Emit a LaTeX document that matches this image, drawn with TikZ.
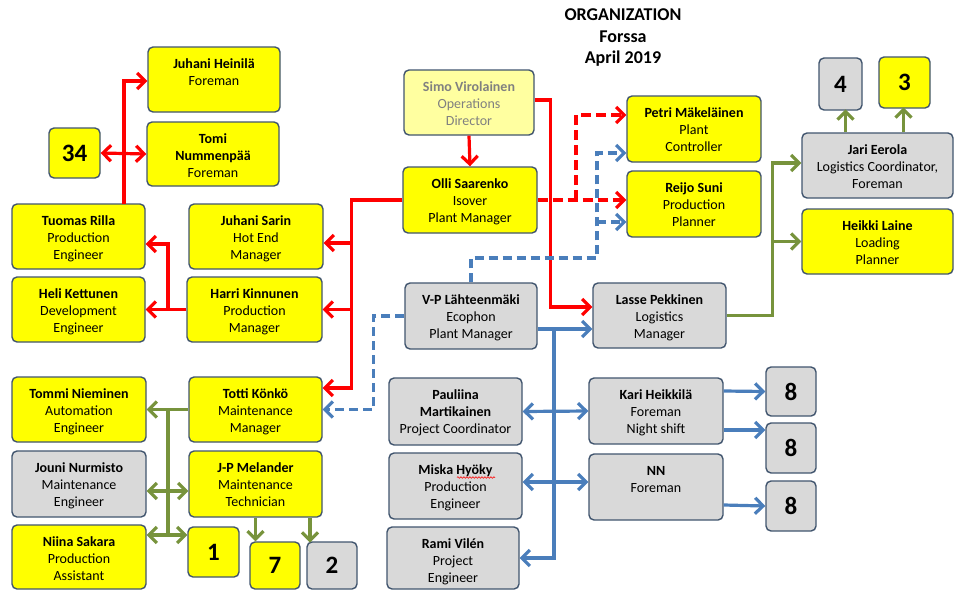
\documentclass[tikz,border=0pt]{standalone}
\usepackage{fontspec}
\setmainfont{Carlito}
\usetikzlibrary{arrows.meta,decorations.pathmorphing}
\definecolor{bordc}{RGB}{65,85,110}
\definecolor{yel}{RGB}{255,255,0}
\definecolor{gry}{RGB}{217,217,217}
\definecolor{lyel}{RGB}{255,255,160}
\definecolor{simotext}{RGB}{128,128,128}
\definecolor{cred}{RGB}{255,0,0}
\definecolor{cblue}{RGB}{74,126,187}
\definecolor{cgreen}{RGB}{119,147,60}
\tikzset{
  box/.style={draw=bordc, line width=1.4pt, rounded corners=5pt, inner sep=0pt},
  ybox/.style={box, fill=yel},
  gbox/.style={box, fill=gry},
  sbox/.style={box, fill=lyel},
  lab/.style={anchor=north, inner sep=0pt, align=center, font=\fontsize{14}{16.9}\selectfont},
  num/.style={font=\fontsize{25}{27}\selectfont\bfseries},
  conn/.style={line width=3.2pt},
  tp/.tip={Straight Barb[length=8pt,width=16pt]},
  ra/.style={conn, draw=cred, -tp},
  ra2/.style={conn, draw=cred, tp-tp},
  rdash/.style={ra, dash pattern=on 10pt off 5pt},
  ba/.style={conn, draw=cblue, -tp},
  ba2/.style={conn, draw=cblue, tp-tp},
  bdash/.style={ba, dash pattern=on 9pt off 5pt},
  ga/.style={conn, draw=cgreen, -tp},
  ga2/.style={conn, draw=cgreen, tp-tp},
  gl/.style={conn, draw=cgreen},
}
\newcommand\pbox[7]{%
  \node[#1, minimum width=#5pt, minimum height=#6pt] (#2) at (#3,#4) {};
  \node[lab] (#2-t) at ([yshift=-10.5pt]#2.north) {#7};}
\newcommand\nbox[7]{%
  \node[#1, num, minimum width=#5pt, minimum height=#6pt] (#2) at (#3,#4) {#7};}
\begin{document}
\begin{tikzpicture}[x=1pt,y=-1pt]
\useasboundingbox (0,0) rectangle (954,590);

% title
\node[font=\fontsize{18}{21.5}\selectfont\bfseries, align=center] (title) at (623,38) {ORGANIZATION\\Forssa\\April 2019};

% left column
\pbox{ybox}{heinila}{214}{79.5}{132}{65}{\strut\textbf{Juhani Heinilä}\\Foreman}
\pbox{ybox}{tomi}{213}{154}{132}{64}{\strut\textbf{Tomi}\\\textbf{Nummenpää}\\Foreman}
\nbox{ybox}{n34}{74.5}{153}{51}{50}{34}
\pbox{ybox}{tuomas}{78.5}{236.5}{133}{65}{\strut\textbf{Tuomas Rilla}\\Production\\Engineer}
\pbox{ybox}{heli}{78.5}{309.5}{133}{65}{\strut\textbf{Heli Kettunen}\\Development\\Engineer}
\pbox{ybox}{sarin}{256}{236.5}{134}{65}{\strut\textbf{Juhani Sarin}\\Hot End\\Manager}
\pbox{ybox}{harri}{254.5}{309.5}{135}{65}{\strut\textbf{Harri Kinnunen}\\Production\\Manager}
\pbox{ybox}{tommi}{79}{409.5}{134}{65}{\strut\textbf{Tommi Nieminen}\\Automation\\Engineer}
\pbox{gbox}{jouni}{79}{484}{134}{66}{\strut\textbf{Jouni Nurmisto}\\Maintenance\\Engineer}
\pbox{ybox}{niina}{79}{557}{134}{64}{\strut\textbf{Niina Sakara}\\Production\\Assistant}
\pbox{ybox}{totti}{255.5}{409.5}{133}{65}{\strut\textbf{Totti Könkö}\\Maintenance\\Manager}
\pbox{ybox}{melander}{255.5}{484}{133}{66}{\strut\textbf{J-P Melander}\\Maintenance\\Technician}
\nbox{ybox}{n1}{213.5}{552}{51}{50}{1}
\nbox{ybox}{n7}{275}{565.5}{50}{47}{7}
\nbox{gbox}{n2}{332}{565.5}{50}{47}{2}

% middle
\node[sbox, minimum width=130pt, minimum height=65pt] (simo) at (469,102.5) {};
\node[lab, text=simotext] (simo-t) at ([yshift=-10.5pt]simo.north) {\strut\textbf{Simo Virolainen}\\Operations\\Director};
\pbox{ybox}{olli}{470}{200}{134}{66}{\strut\textbf{Olli Saarenko}\\Isover\\Plant Manager}
\pbox{gbox}{vp}{471}{316}{132}{66}{\strut\textbf{V-P Lähteenmäki}\\Ecophon\\Plant Manager}
\pbox{ybox}{petri}{694}{129}{134}{66}{\strut\textbf{Petri Mäkeläinen}\\Plant\\Controller}
\pbox{ybox}{reijo}{694}{204}{134}{66}{\strut\textbf{Reijo Suni}\\Production\\Planner}
\pbox{gbox}{lasse}{659.5}{315.5}{133}{65}{\strut\textbf{Lasse Pekkinen}\\Logistics\\Manager}
\pbox{gbox}{jari}{877.5}{165.5}{151}{65}{\strut\textbf{Jari Eerola}\\Logistics Coordinator,\\Foreman}
\pbox{ybox}{heikki}{877.5}{241.5}{151}{65}{\strut\textbf{Heikki Laine}\\Loading\\Planner}
\nbox{gbox}{n4}{840.5}{84}{43}{52}{4}
\nbox{ybox}{n3}{904.5}{82.5}{51}{51}{3}
\pbox{gbox}{pauliina}{455.5}{411.5}{133}{67}{\strut\textbf{Pauliina}\\\textbf{Martikainen}\\Project Coordinator}
\pbox{gbox}{miska}{455.5}{486}{133}{66}{\strut\textbf{Miska Hyöky}\\Production\\Engineer}
\pbox{gbox}{rami}{453}{558}{132}{62}{\strut\textbf{Rami Vilén}\\Project\\Engineer}
\pbox{gbox}{kari}{656}{411}{134}{66}{\strut\textbf{Kari Heikkilä}\\Foreman\\Night shift}
\pbox{gbox}{nn}{656}{487}{134}{66}{\strut\textbf{NN}\\Foreman}
\nbox{gbox}{e1}{791}{391.5}{50}{49}{8}
\nbox{gbox}{e2}{791}{448}{50}{50}{8}
\nbox{gbox}{e3}{791}{506}{50}{50}{8}

% spell-check squiggle under Hyöky
\draw[cred, line width=0.6pt, decorate, decoration={snake, amplitude=0.8pt, segment length=3pt}] (457,477.5) -- (495,477.5);

% red connectors
\draw[ra] (olli.west) -- ++(-51,0) |- ([yshift=21.5pt]totti.east);
\draw[ra] (352,243) -- ([yshift=-6.5pt]sarin.east);
\draw[ra] (352,309.5) -- (harri.east);
\draw[ra] (harri.west) -- (heli.east);
\draw[ra] (168,309.5) |- ([yshift=-7.5pt]tuomas.east);
\draw[ra] (124,204) |- ([yshift=-1.5pt]heinila.west);
\draw[ra2] (n34.east) -- (tomi.west);
\draw[ra] (simo.south) -- (olli.north);
\draw[ra] ([yshift=2.5pt]simo.east) -- ++(16,0) |- ([yshift=8.5pt]lasse.west);
\draw[rdash] (olli.east) -- (olli.east -| reijo.west);
\draw[rdash] (576,200) |- ([yshift=14pt]petri.west);

% blue connectors
\draw[bdash] (vp.north) |- (597,258) |- ([yshift=-24pt]petri.west);
\draw[bdash] (597,222) -- ([yshift=-18pt]reijo.west);
\draw[bdash] (vp.west) -- ++(-31,0) |- (totti.east);
\draw[ba] ([yshift=-13pt]vp.east) -- ([yshift=-13.5pt]lasse.west);
\draw[ba] (554,329) |- (rami.east);
\draw[ba2] (pauliina.east) -- (kari.west);
\draw[ba2] ([yshift=4pt]miska.east) -- ([yshift=5pt]nn.west);
\draw[ba] ([yshift=20pt]kari.east) -- (e1.west);
\draw[ba] ([yshift=-19pt]kari.east) -- ([yshift=18pt]e2.west);
\draw[ba] ([yshift=-18pt]nn.east) -- (e3.west);

% green connectors
\draw[ga] (totti.west) -- (tommi.east);
\draw[gl] (168,409.5) -- (168,535);
\draw[ga2] ([yshift=-7pt]jouni.east) -- ([yshift=-7pt]melander.west);
\draw[ga2] ([yshift=22pt]niina.east) -- ([yshift=17pt]n1.west);
\draw[ga] (melander.south) -- (melander.south |- n7.north);
\draw[ga] ([xshift=54.5pt]melander.south) -- ++(0,25);
\draw[ga] ([xshift=-32pt]jari.north) -- ++(0,-23);
\draw[ga] ([xshift=26pt]jari.north) -- ++(0,-25);
\draw[ga] (lasse.east) -- ++(46,0) |- ([yshift=2.5pt]jari.west);
\draw[ga] (772,241.5) -- (heikki.west);
\end{tikzpicture}
\end{document}
